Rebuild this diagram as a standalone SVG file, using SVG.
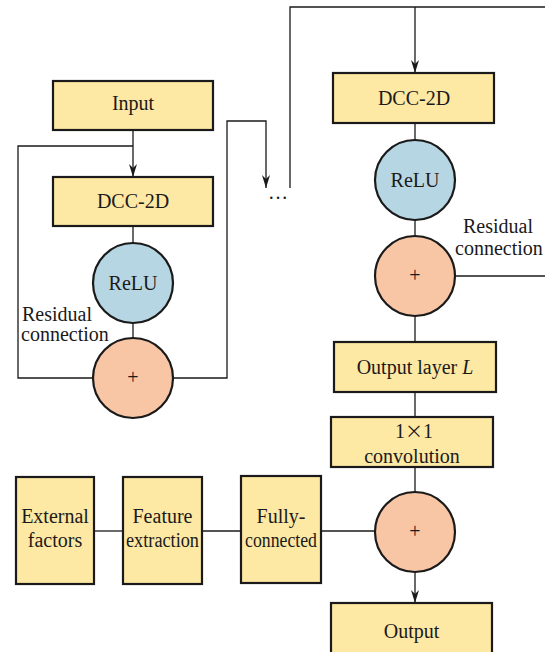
<svg xmlns="http://www.w3.org/2000/svg" width="545" height="652" viewBox="0 0 545 652">
<style>
.box{fill:#FDE8A4;stroke:#1a1a1a;stroke-width:2.2}
.relu{fill:#B7D6E3;stroke:#1a1a1a;stroke-width:2.2}
.plus{fill:#F8C5A5;stroke:#1a1a1a;stroke-width:2.2}
text{font-family:'Liberation Serif','Times New Roman',Times,serif;font-size:20px;fill:#1a1a1a}
.t{text-anchor:middle}
.c{fill:none;stroke:#1a1a1a;stroke-width:1.3}
</style>
<defs>
<marker id="arrd" markerWidth="14" markerHeight="8" refX="13" refY="4" orient="auto" markerUnits="userSpaceOnUse" viewBox="0 0 14 8">
<path d="M0,0 L13,4 L0,8 L4,4 Z" fill="#1a1a1a"/>
</marker>
</defs>
<g id="connectors">
<path class="c" d="M133,130 V177" marker-end="url(#arrd)"/>
<path class="c" d="M133,146 H18 V378 H93"/>
<path class="c" d="M133,226 V243"/>
<path class="c" d="M133,323 V338"/>
<path class="c" d="M173,378 H227 V121 H266 V188" marker-end="url(#arrd)"/>
<path class="c" d="M290,188 V7 H545"/>
<path class="c" d="M415,7 V73" marker-end="url(#arrd)"/>
<path class="c" d="M415,123 V140"/>
<path class="c" d="M415,220 V236"/>
<path class="c" d="M455,276 H545"/>
<path class="c" d="M415,316 V342"/>
<path class="c" d="M415,392 V417"/>
<path class="c" d="M415,467 V492"/>
<path class="c" d="M94,531 H123"/>
<path class="c" d="M202,531 H241"/>
<path class="c" d="M321,531 H376"/>
<path class="c" d="M415,572 V603" marker-end="url(#arrd)"/>
</g>
<g id="input"><rect class="box" x="53" y="81" width="160" height="49"/><text class="t" x="133" y="110">Input</text></g>
<g id="dcc1"><rect class="box" x="53" y="177" width="160" height="49"/><text class="t" x="133" y="208">DCC-2D</text></g>
<g id="relu1"><circle class="relu" cx="133" cy="283" r="40"/><text class="t" x="133" y="290">ReLU</text></g>
<g id="plus1"><circle class="plus" cx="133" cy="378" r="40"/><text class="t" x="133" y="384">+</text></g>
<g id="res1"><text x="22" y="321">Residual</text><text x="21" y="341">connection</text></g>
<g id="dots"><text x="268" y="199">…</text></g>
<g id="dcc2"><rect class="box" x="333" y="73" width="161" height="50"/><text class="t" x="414" y="105">DCC-2D</text></g>
<g id="relu2"><circle class="relu" cx="415" cy="180" r="40"/><text class="t" x="415" y="187">ReLU</text></g>
<g id="plus2"><circle class="plus" cx="415" cy="276" r="40"/><text class="t" x="415" y="282">+</text></g>
<g id="res2"><text x="463" y="233">Residual</text><text x="455" y="255">connection</text></g>
<g id="outL"><rect class="box" x="334" y="342" width="162" height="50"/><text class="t" x="415" y="374">Output layer <tspan font-style="italic">L</tspan></text></g>
<g id="conv"><rect class="box" x="331" y="417" width="162" height="50"/><text class="t" x="414" y="438">1<tspan style="font-family:'Noto Sans CJK SC',sans-serif;font-size:18px">×</tspan>1</text><text class="t" x="412" y="463">convolution</text></g>
<g id="ext"><rect class="box" x="16" y="477" width="78" height="107"/><text class="t" x="55" y="523">External</text><text class="t" x="55" y="547">factors</text></g>
<g id="feat"><rect class="box" x="123" y="477" width="79" height="107"/><text class="t" x="162.5" y="523">Feature</text><text class="t" x="162.5" y="547" textLength="73" lengthAdjust="spacingAndGlyphs">extraction</text></g>
<g id="fc"><rect class="box" x="241" y="476" width="80" height="107"/><text class="t" x="281" y="523">Fully-</text><text class="t" x="281" y="547" textLength="72" lengthAdjust="spacingAndGlyphs">connected</text></g>
<g id="plus3"><circle class="plus" cx="415" cy="532" r="40"/><text class="t" x="415" y="538">+</text></g>
<g id="output"><rect class="box" x="331" y="603" width="161" height="60"/><text class="t" x="411.5" y="638">Output</text></g>
</svg>
